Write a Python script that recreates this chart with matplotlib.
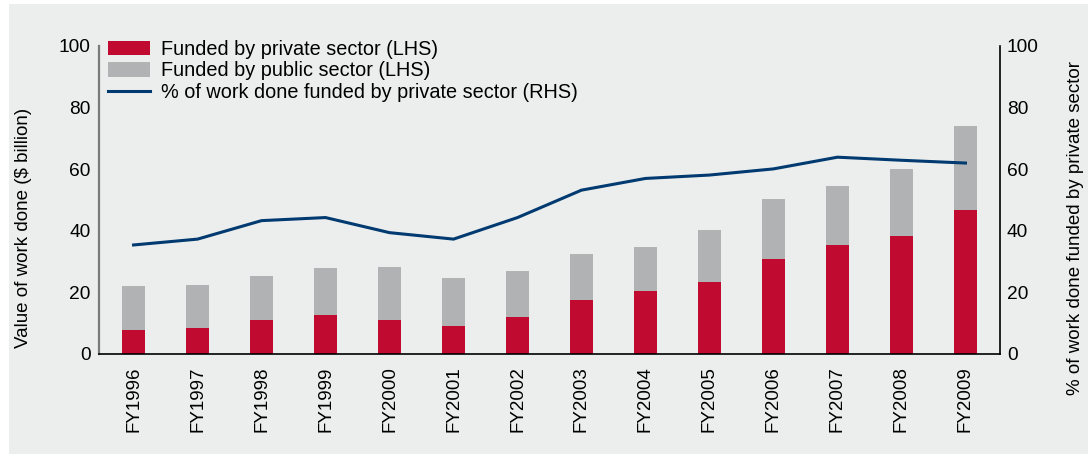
import matplotlib
matplotlib.use("Agg")
import matplotlib.pyplot as plt
from matplotlib.patches import Rectangle
import numpy as np

years = ["FY1996", "FY1997", "FY1998", "FY1999", "FY2000", "FY2001", "FY2002",
         "FY2003", "FY2004", "FY2005", "FY2006", "FY2007", "FY2008", "FY2009"]
private = [7.8, 8.4, 11.0, 12.7, 11.0, 9.1, 12.0, 17.5, 20.5, 23.4, 30.8, 35.4, 38.3, 46.8]
total = [22.1, 22.4, 25.3, 27.9, 28.2, 24.7, 26.9, 32.5, 34.7, 40.3, 50.3, 54.5, 60.1, 74.0]
public = [t - p for t, p in zip(total, private)]
pct_private = [35.4, 37.3, 43.3, 44.3, 39.4, 37.3, 44.3, 53.2, 57.0, 58.1, 60.1, 63.9, 62.9, 62.0]
yticks = [0, 20, 40, 60, 80, 100]

RED = "#C10A2F"
GRAY = "#B1B2B4"
NAVY = "#003A70"
BG = "#ECEEED"

plt.rcParams['font.family'] = ['Liberation Sans', 'DejaVu Sans']
plt.rcParams['font.size'] = 13.5

fig = plt.figure(figsize=(10.88, 4.54), dpi=100)
fig.patch.set_facecolor("white")
fig.add_artist(Rectangle((9/1088, 0), 1 - 9/1088, 1 - 4/454, transform=fig.transFigure,
                         facecolor=BG, edgecolor="none", zorder=-10))

ax = fig.add_axes([99/1088, 1 - 354/454, (1000 - 99)/1088, (354 - 46)/454])
ax.set_facecolor("none")
x = np.arange(len(years))
w = 0.36
ax.bar(x, private, w, color=RED, label="Funded by private sector (LHS)", zorder=2)
ax.bar(x, public, w, bottom=private, color=GRAY, label="Funded by public sector (LHS)", zorder=2)
ax.set_xlim(-0.54, len(years) - 1 + 0.54)
ax.set_ylim(0, 100)
ax.set_yticks(yticks)
ax.set_xticks(x)
ax.set_xticklabels(years, rotation=90, fontsize=13.5)
ax.tick_params(axis='x', length=0, pad=9)
ax.tick_params(axis='y', length=0, pad=6, labelsize=13.8)
ax.set_ylabel("Value of work done ($ billion)", fontsize=13.5)
ax.yaxis.set_label_coords(-0.074, 0.41)
for s in ["top", "right"]:
    ax.spines[s].set_visible(False)
ax.spines["left"].set_color("#7a7a7a")
ax.spines["left"].set_linewidth(1.6)
ax.spines["bottom"].set_color("black")
ax.spines["bottom"].set_linewidth(1.2)

ax2 = ax.twinx()
ax2.plot(x, pct_private, color=NAVY, lw=2.2, label="% of work done funded by private sector (RHS)", zorder=3)
ax2.set_ylim(0, 100)
ax2.set_yticks(yticks)
ax2.tick_params(axis='y', length=0, pad=5, labelsize=13.8)
ax2.set_ylabel("% of work done funded by private sector", fontsize=13.5)
ax2.yaxis.set_label_coords(1.074, 0.41)
for s in ["top", "left", "bottom"]:
    ax2.spines[s].set_visible(False)
ax2.spines["right"].set_color("black")
ax2.spines["right"].set_linewidth(1.2)

h1, l1 = ax.get_legend_handles_labels()
h2, l2 = ax2.get_legend_handles_labels()
leg = ax2.legend(h1 + h2, l1 + l2, loc="upper left",
                 bbox_to_anchor=(108/1088, 1 - 40/454), bbox_transform=fig.transFigure,
                 frameon=False, borderpad=0, borderaxespad=0,
                 handlelength=2.1, handleheight=0.75, handletextpad=0.55,
                 labelspacing=0.12, fontsize=14.3)

fig.savefig("out.png", dpi=100, facecolor=fig.get_facecolor())
